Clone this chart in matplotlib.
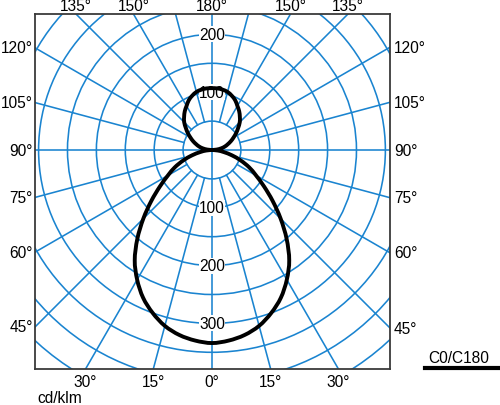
import numpy as np
import matplotlib
matplotlib.use("Agg")
import matplotlib.pyplot as plt
from matplotlib.patches import Circle, PathPatch
from matplotlib.path import Path
from matplotlib.lines import Line2D

plt.rcParams['font.family'] = ['Liberation Sans', 'DejaVu Sans']

# luminous intensity (cd/klm) against gamma angle, C0/C180 plane (symmetric)
gamma = [0, 5, 10, 15, 20, 25, 30, 35, 40, 45, 50, 55, 60, 65, 70, 75, 80, 85, 90,
         95, 100, 105, 110, 115, 120, 125, 130, 135, 140, 145, 150, 155, 160, 165, 170, 175, 180]
intensity = [334, 331, 325, 315, 300, 282, 259, 233, 201, 168, 137, 110, 88, 71, 53, 36, 21, 10, 0,
             8, 16, 23, 29, 36, 43, 51, 59, 68, 75, 82, 88, 95, 100, 104, 106, 107, 107]

ring_values = [50, 100, 150, 200, 250, 300, 350, 400, 450, 500]
ring_labels_down = [100, 200, 300]
ring_labels_up = [100, 200]
spoke_angles = list(range(0, 360, 15))
angle_labels = [0, 15, 30, 45, 60, 75, 90, 105, 120, 135, 150, 180]

grid_col = '#1a84d0'
fs = 11.2
xmin, xmax = -306.2, 308.0
ymin, ymax = -378.9, 235.3

fig = plt.figure(figsize=(5.0, 4.06), dpi=100)
ax = fig.add_axes([35 / 500, 36 / 406, 355 / 500, 355 / 406])
ax.set_xlim(xmin, xmax)
ax.set_ylim(ymin, ymax)
ax.set_xticks([])
ax.set_yticks([])
for s in ax.spines.values():
    s.set_color('#3a3a3a')
    s.set_linewidth(1.3)

# rings
for r in ring_values:
    ax.add_patch(Circle((0, 0), r, fill=False, color=grid_col, lw=1.15, zorder=1))

# spokes, the axes go through the centre, the others start at the first ring
for a in spoke_angles:
    t = np.radians(a)
    r0 = 0 if a % 90 == 0 else ring_values[0]
    ax.plot([r0 * np.sin(t), 600 * np.sin(t)], [-r0 * np.cos(t), -600 * np.cos(t)],
            color=grid_col, lw=1.15, zorder=1)

# ring value labels
for v in ring_labels_down:
    ax.text(0, -v, str(v), ha='center', va='center', fontsize=fs, zorder=3,
            bbox=dict(facecolor='white', edgecolor='none', pad=0.3))
for v in ring_labels_up:
    ax.text(0, v, str(v), ha='center', va='center', fontsize=fs, zorder=3,
            bbox=dict(facecolor='white', edgecolor='none', pad=0.3))

# angle labels where the spokes leave the frame
done = set()
for a in angle_labels:
    for side in (-1, 1):
        t = np.radians(a)
        dx, dy = side * np.sin(t), -np.cos(t)
        ts = []
        if dx < -1e-9:
            ts.append((xmin / dx, 'left'))
        if dx > 1e-9:
            ts.append((xmax / dx, 'right'))
        if dy < -1e-9:
            ts.append((ymin / dy, 'bottom'))
        if dy > 1e-9:
            ts.append((ymax / dy, 'top'))
        tt, edge = min(ts)
        px, py = tt * dx, tt * dy
        key = (round(px), round(py))
        if key in done:
            continue
        done.add(key)
        lab = f'{a}\u00b0'
        if edge == 'left':
            ax.text(xmin - 4, py, lab, ha='right', va='center', fontsize=fs, clip_on=False)
        elif edge == 'right':
            ax.text(xmax + 7, py, lab, ha='left', va='center', fontsize=fs, clip_on=False)
        elif edge == 'top':
            ax.text(px, ymax + 15, lab, ha='center', va='center', fontsize=fs, clip_on=False)
        else:
            ax.text(px, ymin - 22, lab, ha='center', va='center', fontsize=fs, clip_on=False)

# the curve, mirrored for C180, drawn as a smooth bezier through the readings
g = np.radians(np.array(gamma, dtype=float))
I = np.array(intensity, dtype=float)
gg = np.concatenate([-g[::-1], g[1:]])
II = np.concatenate([I[::-1], I[1:]])
pts = np.column_stack([II * np.sin(gg), -II * np.cos(gg)])
verts = [pts[0]]
codes = [Path.MOVETO]
n = len(pts)
for i in range(n - 1):
    p0 = pts[max(i - 1, 0)]
    p1 = pts[i]
    p2 = pts[i + 1]
    p3 = pts[min(i + 2, n - 1)]
    # no tangent smoothing through the centre point, both lobes meet there
    c1 = p1 + (p2 - p0) / 6 if np.hypot(*p1) > 1e-6 else p1
    c2 = p2 - (p3 - p1) / 6 if np.hypot(*p2) > 1e-6 else p2
    verts += [c1, c2, p2]
    codes += [Path.CURVE4] * 3
ax.add_patch(PathPatch(Path(verts, codes), fill=False, edgecolor='black', lw=2.8,
                       zorder=4, joinstyle='round'))

fig.text(37 / 500, 1 - 399 / 406, 'cd/klm', ha='left', va='center', fontsize=fs)
fig.text(428 / 500, 1 - 359 / 406, 'C0/C180', ha='left', va='center', fontsize=fs)
fig.add_artist(Line2D([425 / 500, 499 / 500], [1 - 369 / 406] * 2, lw=3, color='black'))

fig.savefig('out.png', dpi=100)
